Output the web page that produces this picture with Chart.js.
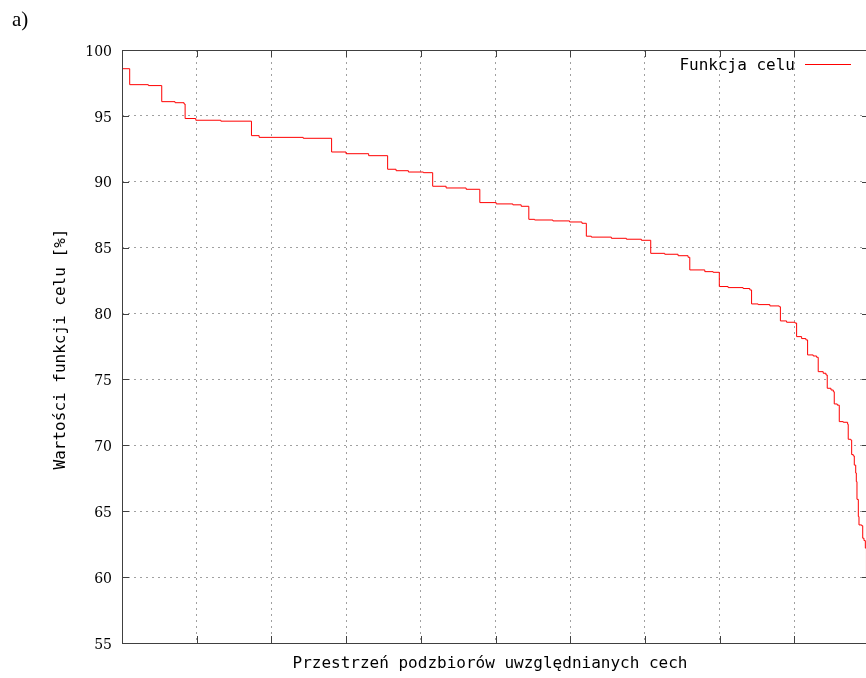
<!DOCTYPE html>
<html>
<head>
<meta charset="utf-8">
<script src="https://cdn.jsdelivr.net/npm/chart.js@4.4.0/dist/chart.umd.min.js"></script>
<style>
html, body { margin: 0; padding: 0; overflow: hidden; background: #fff; width: 866px; height: 678px; }
#wrap { position: absolute; left: 0; top: 0; width: 870px; height: 678px; }
#tag { position: absolute; left: 12px; top: 9px; font: 21px "Liberation Serif", serif; line-height: 1; color: #000; }
</style>
</head>
<body>
<div id="wrap"><canvas id="c" width="870" height="678"></canvas></div>
<div id="tag">a)</div>
<script>
// subset space position (0..100) where each level starts
var xPos = [0, 1.03, 3.53, 5.32, 7.10, 8.31, 8.45, 9.88, 13.23, 17.33, 18.36, 24.26,
  28.06, 29.99, 33.02, 35.56, 36.69, 38.34, 40.35, 41.59, 43.39, 46.07, 47.90, 50.09,
  52.32, 53.44, 54.46, 55.23, 57.68, 59.92, 61.57, 62.16, 62.83, 65.51, 67.52, 69.53,
  70.78, 72.65, 74.44, 75.78, 76.01, 78.02, 79.13, 79.96, 81.14, 83.15, 84.05, 84.28,
  85.16, 86.73, 87.98, 88.14, 88.97, 90.08, 90.31, 90.98, 91.55, 91.78, 92.53, 92.99,
  93.20, 93.87, 94.24, 94.41, 94.91, 95.22, 95.35, 95.75, 96.02, 96.55, 97.14, 97.22,
  97.55, 97.68, 97.89, 98.03, 98.22, 98.30, 98.39, 98.57, 98.66, 99.02, 99.16, 99.33,
  99.51, 99.66];
// objective function value [%]
var values = [98.58, 97.37, 97.30, 96.08, 96.00, 95.90, 94.80, 94.67, 94.60, 93.50, 93.37, 93.30,
  92.26, 92.13, 91.98, 90.95, 90.84, 90.74, 90.69, 89.66, 89.53, 89.43, 88.42, 88.32,
  88.25, 88.14, 87.15, 87.10, 87.03, 86.95, 86.85, 85.87, 85.80, 85.71, 85.64, 85.56,
  84.57, 84.50, 84.39, 84.27, 83.31, 83.18, 83.13, 82.05, 81.97, 81.90, 81.79, 80.73,
  80.68, 80.58, 80.52, 79.44, 79.34, 79.28, 78.25, 78.10, 78.00, 76.86, 76.78, 76.68,
  75.59, 75.47, 75.34, 74.33, 74.20, 74.07, 73.14, 73.05, 71.80, 71.75, 71.60, 70.46,
  70.40, 69.30, 69.20, 68.50, 67.90, 67.25, 65.90, 64.60, 63.96, 63.90, 62.95, 62.77,
  62.20, 60.00];
var yTicks = [55, 60, 65, 70, 75, 80, 85, 90, 95, 100];

var seriesLabel = "Funkcja celu";
var xTitle = "Przestrzeń podzbiorów uwzględnianych cech";
var yTitle = "Wartości funkcji celu [%]";

var points = [];
for (var i = 0; i < xPos.length; i++) {
    points.push({x: xPos[i], y: values[i]});
}

var mono = '"DejaVu Sans Mono", monospace';

// gnuplot like frame: full border, inward ticks, titles and key
var framePlugin = {
    id: "frame",
    afterDraw: function (chart) {
        var ctx = chart.ctx, a = chart.chartArea;
        var sx = chart.scales.x, sy = chart.scales.y;
        ctx.save();
        ctx.strokeStyle = "#404040";
        ctx.lineWidth = 1;
        ctx.beginPath();
        ctx.rect(Math.round(a.left) + 0.5, Math.round(a.top) + 0.5,
            Math.round(a.right - a.left), Math.round(a.bottom - a.top));
        sy.ticks.forEach(function (t) {
            var py = Math.round(sy.getPixelForValue(t.value)) + 0.5;
            ctx.moveTo(a.left, py); ctx.lineTo(a.left + 7, py);
            ctx.moveTo(a.right, py); ctx.lineTo(a.right - 7, py);
        });
        sx.ticks.forEach(function (t) {
            var px = Math.round(sx.getPixelForValue(t.value)) + 0.5;
            ctx.moveTo(px, a.bottom); ctx.lineTo(px, a.bottom - 7);
            ctx.moveTo(px, a.top); ctx.lineTo(px, a.top + 7);
        });
        ctx.stroke();

        ctx.fillStyle = "#000";
        ctx.font = "16px " + mono;
        ctx.textBaseline = "alphabetic";
        // key
        ctx.textAlign = "right";
        ctx.fillText(chart.data.datasets[0].label, 795, 70);
        ctx.strokeStyle = chart.data.datasets[0].borderColor;
        ctx.beginPath();
        ctx.moveTo(805, 64.5); ctx.lineTo(851, 64.5);
        ctx.stroke();
        // axis titles
        ctx.textAlign = "center";
        ctx.fillText(xTitle, 490, 668);
        ctx.translate(65, 349);
        ctx.rotate(-Math.PI / 2);
        ctx.fillText(yTitle, 0, 0);
        ctx.restore();
    }
};

new Chart(document.getElementById("c"), {
    type: "line",
    data: {
        datasets: [{
            label: seriesLabel,
            data: points,
            stepped: true,
            borderColor: "#ff0000",
            borderWidth: 1,
            pointRadius: 0,
            fill: false
        }]
    },
    options: {
        responsive: false,
        animation: false,
        devicePixelRatio: 1,
        layout: {padding: {top: 50, right: 1, left: 0, bottom: 0}},
        plugins: {legend: {display: false}, tooltip: {enabled: false}},
        scales: {
            x: {
                type: "linear",
                min: 0, max: 100,
                ticks: {display: false, stepSize: 10},
                grid: {color: "#a0a0a0", drawTicks: false, tickLength: 0},
                border: {display: false, dash: [2, 4]},
                afterFit: function (s) { s.height = 35; }
            },
            y: {
                min: 55, max: 100,
                afterBuildTicks: function (s) {
                    s.ticks = yTicks.map(function (v) { return {value: v}; });
                },
                ticks: {
                    color: "#000",
                    padding: 10,
                    labelOffset: 2,
                    font: {family: '"DejaVu Serif", serif', size: 14}
                },
                grid: {color: "#a0a0a0", drawTicks: false, tickLength: 0},
                border: {display: false, dash: [2, 4]},
                afterFit: function (s) { s.width = 122; }
            }
        }
    },
    plugins: [framePlugin]
});
</script>
</body>
</html>
